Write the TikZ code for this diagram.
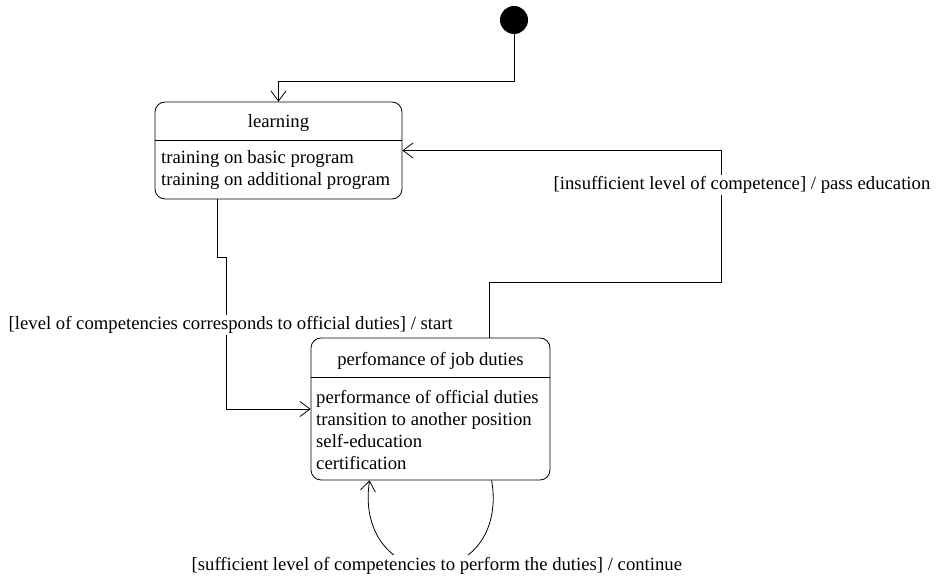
\documentclass[tikz,border=0pt]{standalone}
\usepackage{fontspec}
\setmainfont{Liberation Serif}
\usetikzlibrary{arrows.meta,calc}
\begin{document}
\begin{tikzpicture}[x=1pt,y=-1pt,
  every node/.style={font=\fontsize{18.7}{22}\selectfont},
  statebox/.style={draw, line width=0.8pt, rounded corners=10pt, inner sep=0pt},
  divider/.style={line width=0.8pt},
  line/.style={anchor=base west, inner sep=0pt},
  title/.style={anchor=base, inner sep=0pt},
  arr/.style={line width=0.8pt, -{Straight Barb[length=10pt,width=15pt]}},
  guard/.style={fill=white, inner sep=1.5pt, anchor=base west}]
\useasboundingbox (0,0) rectangle (937,577);

% initial pseudo-state
\node[circle, fill=black, minimum size=28pt, inner sep=0pt] (init) at (514,20) {};

% state: learning
\node[statebox, minimum width=247pt, minimum height=97pt] (learning) at (278.5,150.5) {};
\draw[divider] ($(learning.north west)+(0,39)$) -- ($(learning.north east)+(0,39)$);
\node[title] (learningTitle) at (278.5,128) {learning};
\node[line] (learningA) at (161,164) {training on basic program};
\node[line] (learningB) at (161,186) {training on additional program};

% state: performance of job duties
\node[statebox, minimum width=239pt, minimum height=142pt] (perf) at (430.5,409) {};
\draw[divider] ($(perf.north west)+(0,40)$) -- ($(perf.north east)+(0,40)$);
\node[title] (perfTitle) at (430.5,365) {perfomance of job duties};
\node[line] (perfA) at (316,403) {performance of official duties};
\node[line] (perfB) at (316,425) {transition to another position};
\node[line] (perfC) at (316,447) {self-education};
\node[line] (perfD) at (316,469) {certification};

% transitions
\draw[arr] (init.south) -- ++(0,47) -| (learning.north);

\coordinate (lOut) at ($(learning.south west)+(63,0)$);
\draw[arr] (lOut) -- ++(0,58) -- ++(9,0) |- (perf.west);
\node[guard] (startLabel) at (7,330) {[level of competencies corresponds to official duties] / start};

\coordinate (pOut) at ($(perf.north west)+(179,0)$);
\draw[arr] (pOut) |- (721,282) |- (learning.east);
\node[guard] (eduLabel) at (552,190) {[insufficient level of competence] / pass education};

\coordinate (loopOut) at ($(perf.south west)+(181,0)$);
\coordinate (loopIn) at ($(perf.south west)+(59,0)$);
\draw[arr] (loopOut) .. controls (500,528) and (475,566) .. (431,568)
                     .. controls (387,566) and (362,528) .. (loopIn);
\node[guard] (loopLabel) at (190,570) {[sufficient level of competencies to perform the duties] / continue};
\end{tikzpicture}
\end{document}
